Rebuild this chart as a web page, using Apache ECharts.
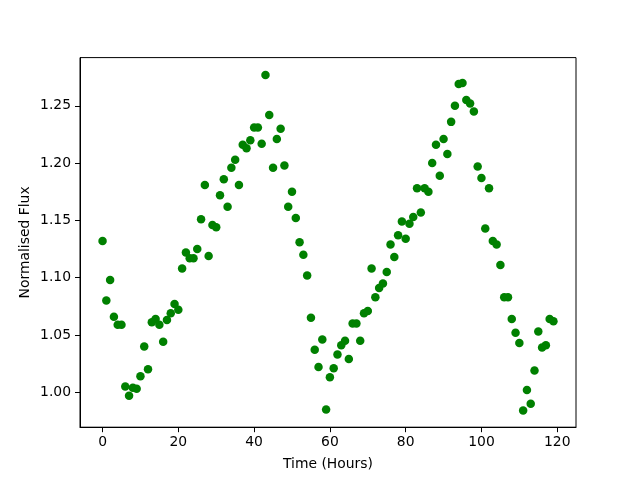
<!DOCTYPE html>
<html lang="en">
<head>
<meta charset="UTF-8">
<title>Normalised Flux</title>
<script src="https://cdn.jsdelivr.net/npm/echarts@6/dist/echarts.min.js"></script>
<style>
  html, body { margin: 0; padding: 0; background: #fff; }
  #chart { width: 640px; height: 480px; }
</style>
</head>
<body>
<div id="chart"></div>
<script>
// time in hours
var hours = [
  0, 1, 2, 3, 4, 5, 6, 7, 8, 9, 10, 11, 12, 13, 14, 15, 16, 17, 18, 19,
  20, 21, 22, 23, 24, 25, 26, 27, 28, 29, 30, 31, 32, 33, 34, 35, 36, 37, 38, 39,
  40, 41, 42, 43, 44, 45, 46, 47, 48, 49, 50, 51, 52, 53, 54, 55, 56, 57, 58, 59,
  60, 61, 62, 63, 64, 65, 66, 67, 68, 69, 70, 71, 72, 73, 74, 75, 76, 77, 78, 79,
  80, 81, 82, 83, 84, 85, 86, 87, 88, 89, 90, 91, 92, 93, 94, 95, 96, 97, 98, 99,
  100, 101, 102, 103, 104, 105, 106, 107, 108, 109, 110, 111, 112, 113, 114, 115, 116, 117, 118, 119
];
// normalised flux
var flux = [
  1.132, 1.080, 1.098, 1.066, 1.059, 1.059, 1.005, 0.997, 1.004, 1.003,
  1.014, 1.040, 1.020, 1.061, 1.064, 1.059, 1.044, 1.063, 1.069, 1.077,
  1.072, 1.108, 1.122, 1.117, 1.117, 1.125, 1.151, 1.181, 1.119, 1.146,
  1.144, 1.172, 1.186, 1.162, 1.196, 1.203, 1.181, 1.216, 1.213, 1.220,
  1.231, 1.231, 1.217, 1.277, 1.242, 1.196, 1.221, 1.230, 1.198, 1.162,
  1.175, 1.152, 1.131, 1.120, 1.102, 1.065, 1.037, 1.022, 1.046, 0.985,
  1.013, 1.021, 1.033, 1.041, 1.045, 1.029, 1.060, 1.060, 1.045, 1.069,
  1.071, 1.108, 1.083, 1.091, 1.095, 1.105, 1.129, 1.118, 1.137, 1.149,
  1.134, 1.147, 1.153, 1.178, 1.157, 1.178, 1.175, 1.200, 1.216, 1.189,
  1.221, 1.208, 1.236, 1.250, 1.269, 1.270, 1.255, 1.252, 1.245, 1.197,
  1.187, 1.143, 1.178, 1.132, 1.129, 1.111, 1.083, 1.083, 1.064, 1.052,
  1.043, 0.984, 1.002, 0.990, 1.019, 1.053, 1.039, 1.041, 1.064, 1.062
];
var xTicks = [0, 20, 40, 60, 80, 100, 120];
var yTicks = [1.00, 1.05, 1.10, 1.15, 1.20, 1.25];

var points = [];
for (var i = 0; i < hours.length; i++) {
  points.push([hours[i], flux[i]]);
}

var font = 'DejaVu Sans';
var chart = echarts.init(document.getElementById('chart'));
chart.setOption({
  animation: false,
  backgroundColor: '#fff',
  grid: {
    left: 80, right: 64, top: 57.6, bottom: 52.8,
    show: true, borderColor: '#000', borderWidth: 1
  },
  xAxis: {
    type: 'value',
    min: -5.95, max: 124.95,
    name: 'Time (Hours)',
    nameLocation: 'middle',
    nameGap: 30,
    nameMoveOverlap: false,
    nameTextStyle: { color: '#000', fontFamily: font, fontSize: 13.9 },
    axisLine: { show: true, onZero: false, lineStyle: { color: '#000', width: 1 } },
    axisTick: { show: true, length: 5, lineStyle: { color: '#000' }, customValues: xTicks },
    axisLabel: { color: '#000', fontFamily: font, fontSize: 13.9, margin: 8, customValues: xTicks },
    splitLine: { show: false }
  },
  yAxis: {
    type: 'value',
    min: 0.9695, max: 1.2921,
    name: 'Normalised Flux',
    nameLocation: 'middle',
    nameGap: 48,
    nameMoveOverlap: false,
    nameTextStyle: { color: '#000', fontFamily: font, fontSize: 13.9 },
    axisLine: { show: true, onZero: false, lineStyle: { color: '#000', width: 1 } },
    axisTick: { show: true, length: 5, lineStyle: { color: '#000' }, customValues: yTicks },
    axisLabel: {
      color: '#000', fontFamily: font, fontSize: 13.9, margin: 9,
      customValues: yTicks,
      formatter: function (v) { return v.toFixed(2); }
    },
    splitLine: { show: false }
  },
  series: [{
    type: 'scatter',
    data: points,
    symbol: 'circle',
    symbolSize: 8.5,
    itemStyle: { color: '#008000', opacity: 1 }
  }]
});
</script>
</body>
</html>
